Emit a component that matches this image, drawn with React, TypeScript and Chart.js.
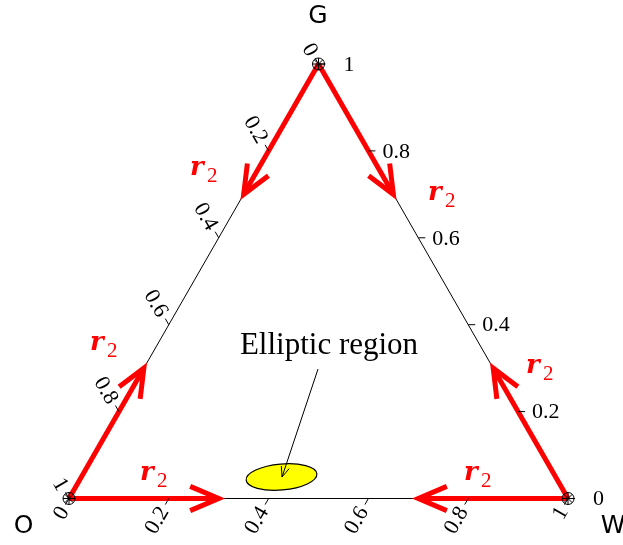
import React, { useEffect, useRef } from "react";
import { Chart, registerables } from "chart.js";
Chart.register(...registerables);

// Ternary components are [O, W, G]
const vertexNames = ["O", "W", "G"];
const vertexO = [1, 0, 0];
const vertexW = [0, 1, 0];
const vertexG = [0, 0, 1];
const tickValues = [0, 0.2, 0.4, 0.6, 0.8, 1];
const tickLabels = ["  0", "0.2", "0.4", "0.6", "0.8", "  1"];
// arrows (r2 directions): start and end points in ternary fractions
const arrowStarts = [
  [0, 0, 1], [0, 0, 1], [1, 0, 0], [1, 0, 0], [0, 1, 0], [0, 1, 0],
];
const arrowEnds = [
  [0.3, 0, 0.7], [0, 0.3, 0.7], [0.7, 0, 0.3], [0.7, 0.3, 0], [0, 0.7, 0.3], [0.3, 0.7, 0],
];
const arrowLabel = "r";
const arrowLabelSub = "2";
// label anchors (cartesian data units) for each r2 label
const arrowLabelX = [0.2465, 0.7234, 0.0461, 0.1463, 0.9198, 0.7956];
const arrowLabelY = [0.6448, 0.595, 0.296, 0.0369, 0.2501, 0.0369];
// elliptic region
const ellipseCenter = [0.5494, 0.4011, 0.0495];
const ellipseRadii = [0.0711, 0.0259];
const ellipseAngleDeg = -5;
const annotationText = "Elliptic region";
const annotationTextPos = [0.521, 0.304];
const annotationArrowFrom = [0.499, 0.258];
const annotationArrowTo = [0.4269, 0.0429];
// vertex label positions (cartesian data units)
const vertexLabelX = [-0.0912, 1.0902, 0.499];
const vertexLabelY = [-0.0568, -0.0568, 0.9607];

const S3 = Math.sqrt(3) / 2;
const toCart = (t: number[]) => ({ x: t[1] + t[2] / 2, y: t[2] * S3 });
const mix = (a: number[], b: number[], v: number) => a.map((ai, i) => ai * (1 - v) + b[i] * v);

const overlayPlugin = {
  id: "ternaryOverlay",
  afterDatasetsDraw(chart: any) {
    const { ctx } = chart;
    const xs = chart.scales.x;
    const ys = chart.scales.y;
    const px = (c: { x: number; y: number }) => ({ x: xs.getPixelForValue(c.x), y: ys.getPixelForValue(c.y) });
    ctx.save();

    // arrowheads
    ctx.strokeStyle = "#ff0000";
    ctx.lineWidth = 5;
    ctx.lineJoin = "miter";
    ctx.lineCap = "butt";
    arrowStarts.forEach((s, i) => {
      const a = px(toCart(s));
      const b = px(toCart(arrowEnds[i]));
      const ang = Math.atan2(b.y - a.y, b.x - a.x);
      const L = 31, h = (23 * Math.PI) / 180;
      ctx.beginPath();
      ctx.moveTo(b.x - L * Math.cos(ang - h), b.y - L * Math.sin(ang - h));
      ctx.lineTo(b.x, b.y);
      ctx.lineTo(b.x - L * Math.cos(ang + h), b.y - L * Math.sin(ang + h));
      ctx.stroke();
    });

    // ticks and tick labels
    const axes = [
      { from: vertexO, to: vertexW, dir: [-0.5, S3], rot: -Math.PI / 3, align: "right", off: 11 },
      { from: vertexG, to: vertexO, dir: [-0.5, -S3], rot: Math.PI / 3, align: "right", off: 11 },
      { from: vertexW, to: vertexG, dir: [1, 0], rot: 0, align: "left", off: 14 },
    ];
    ctx.strokeStyle = "#000";
    ctx.fillStyle = "#000";
    ctx.lineWidth = 1;
    ctx.font = "22px 'Liberation Serif', serif";
    ctx.textBaseline = "middle";
    axes.forEach((ax) => {
      tickValues.forEach((v, k) => {
        const p = px(toCart(mix(ax.from, ax.to, v)));
        ctx.beginPath();
        ctx.moveTo(p.x, p.y);
        ctx.lineTo(p.x + ax.dir[0] * 7, p.y + ax.dir[1] * 7);
        ctx.stroke();
        ctx.save();
        ctx.translate(p.x + ax.dir[0] * ax.off, p.y + ax.dir[1] * ax.off);
        ctx.rotate(ax.rot);
        ctx.textAlign = ax.align;
        ctx.fillText(tickLabels[k], 0, 1);
        ctx.restore();
      });
    });

    // ellipse
    const c = px(toCart(ellipseCenter));
    const sx = Math.abs(xs.getPixelForValue(1) - xs.getPixelForValue(0));
    const sy = Math.abs(ys.getPixelForValue(1) - ys.getPixelForValue(0));
    ctx.beginPath();
    ctx.ellipse(c.x, c.y, ellipseRadii[0] * sx, ellipseRadii[1] * sy, (ellipseAngleDeg * Math.PI) / 180, 0, Math.PI * 2);
    ctx.fillStyle = "#ffff00";
    ctx.fill();
    ctx.strokeStyle = "#000";
    ctx.lineWidth = 1.2;
    ctx.stroke();

    // annotation arrow
    const a0 = px({ x: annotationArrowFrom[0], y: annotationArrowFrom[1] });
    const a1 = px({ x: annotationArrowTo[0], y: annotationArrowTo[1] });
    ctx.lineWidth = 1;
    ctx.beginPath();
    ctx.moveTo(a0.x, a0.y);
    ctx.lineTo(a1.x, a1.y);
    const ang = Math.atan2(a1.y - a0.y, a1.x - a0.x);
    const hl = 11, hh = (22 * Math.PI) / 180;
    ctx.moveTo(a1.x - hl * Math.cos(ang - hh), a1.y - hl * Math.sin(ang - hh));
    ctx.lineTo(a1.x, a1.y);
    ctx.lineTo(a1.x - hl * Math.cos(ang + hh), a1.y - hl * Math.sin(ang + hh));
    ctx.stroke();

    // annotation text
    const tp = px({ x: annotationTextPos[0], y: annotationTextPos[1] });
    ctx.fillStyle = "#000";
    ctx.font = "31px 'Liberation Serif', serif";
    ctx.textAlign = "center";
    ctx.textBaseline = "middle";
    ctx.fillText(annotationText, tp.x, tp.y);

    // r2 labels
    ctx.fillStyle = "#ff0000";
    ctx.textAlign = "left";
    ctx.textBaseline = "alphabetic";
    arrowLabelX.forEach((lx, i) => {
      const p = px({ x: lx, y: arrowLabelY[i] });
      ctx.font = "bold italic 26px 'DejaVu Serif', serif";
      ctx.fillText(arrowLabel, p.x - 2, p.y);
      ctx.font = "21px 'Liberation Serif', serif";
      ctx.fillText(arrowLabelSub, p.x + 15, p.y + 7);
    });

    // vertex labels
    ctx.fillStyle = "#000";
    ctx.font = "25px 'DejaVu Sans', sans-serif";
    ctx.textAlign = "center";
    ctx.textBaseline = "middle";
    vertexNames.forEach((n, i) => {
      const p = px({ x: vertexLabelX[i], y: vertexLabelY[i] });
      ctx.fillText(n, p.x, p.y);
    });

    ctx.restore();
  },
};

export default function App() {
  const ref = useRef<HTMLCanvasElement>(null);
  useEffect(() => {
    document.body.style.margin = "0";
    const verts = [vertexO, vertexW, vertexG];
    const tri = [vertexO, vertexW, vertexG, vertexO].map(toCart);
    const arrowSets = arrowStarts.map((s, i) => ({
      type: "line" as const,
      data: [toCart(s), toCart(arrowEnds[i])],
      borderColor: "#ff0000",
      borderWidth: 5,
      borderCapStyle: "butt",
      pointRadius: 0,
      showLine: true,
      order: 2,
    }));
    const chart = new Chart(ref.current!, {
      type: "scatter",
      data: {
        datasets: [
          {
            data: verts.map(toCart),
            pointStyle: "circle",
            pointRadius: 6,
            borderColor: "#000",
            backgroundColor: "rgba(0,0,0,0)",
            borderWidth: 1,
            order: 0,
          },
          {
            data: verts.map(toCart),
            pointStyle: "star",
            pointRadius: 6,
            borderColor: "#000",
            borderWidth: 1,
            order: 0,
          },
          ...arrowSets,
          {
            type: "line" as const,
            data: tri,
            borderColor: "#000",
            borderWidth: 1,
            pointRadius: 0,
            showLine: true,
            order: 3,
          },
        ] as any,
      },
      options: {
        animation: false,
        responsive: false,
        layout: { padding: 0, autoPadding: false },
        plugins: { legend: { display: false }, tooltip: { enabled: false } },
        scales: {
          x: { type: "linear", min: -0.1383, max: 1.1102, display: false },
          y: { type: "linear", min: -0.0927, max: 0.9936, display: false },
        },
      },
      plugins: [overlayPlugin],
    });
    return () => chart.destroy();
  }, []);
  return (
    <div style={{ width: 623, height: 545 }}>
      <canvas ref={ref} width={623} height={545} style={{ display: "block" }} />
    </div>
  );
}
